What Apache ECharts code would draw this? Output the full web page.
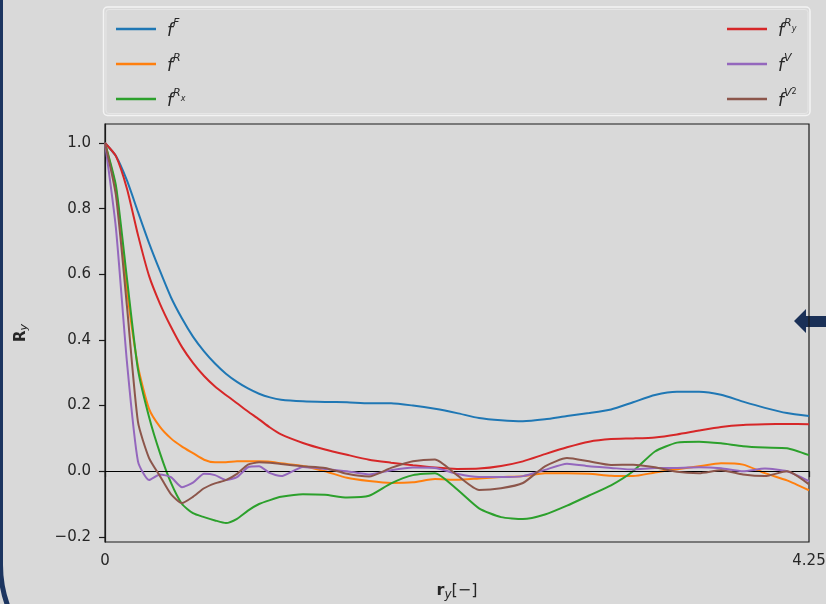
<!DOCTYPE html>
<html>
<head>
<meta charset="utf-8">
<script src="https://cdn.jsdelivr.net/npm/echarts@6/dist/echarts.min.js"></script>
<style>
  html, body { margin: 0; padding: 0; background: #d9d9d9; }
  #chart { width: 826px; height: 604px; }
</style>
</head>
<body>
<div id="chart"></div>
<script>
// Lag positions r_y (shared by all curves)
const rY = [0, 0.066, 0.133, 0.199, 0.266, 0.332, 0.398, 0.465, 0.531, 0.598,
  0.664, 0.730, 0.797, 0.863, 0.930, 0.996, 1.063, 1.195, 1.328, 1.461,
  1.594, 1.727, 1.859, 1.992, 2.125, 2.258, 2.391, 2.523, 2.656, 2.789,
  2.922, 3.055, 3.188, 3.320, 3.453, 3.586, 3.719, 3.852, 3.984, 4.117, 4.25];

// Correlation curves R_y for each field
const fF = [1.0, 0.96, 0.885, 0.79, 0.695, 0.61, 0.53, 0.465, 0.41, 0.365,
  0.328, 0.297, 0.272, 0.252, 0.236, 0.225, 0.218, 0.213, 0.211, 0.21,
  0.207, 0.207, 0.20, 0.19, 0.177, 0.162, 0.155, 0.152, 0.158, 0.168,
  0.177, 0.188, 0.21, 0.232, 0.242, 0.242, 0.233, 0.212, 0.193, 0.177, 0.168];
const fR = [1.0, 0.86, 0.55, 0.32, 0.19, 0.135, 0.10, 0.075, 0.055, 0.035,
  0.027, 0.027, 0.03, 0.03, 0.03, 0.029, 0.024, 0.016, 0.0, -0.02,
  -0.03, -0.036, -0.034, -0.024, -0.026, -0.022, -0.018, -0.015, -0.006, -0.006,
  -0.008, -0.014, -0.015, -0.004, 0.006, 0.015, 0.024, 0.02, -0.006, -0.028, -0.058];
const fRx = [1.0, 0.87, 0.585, 0.31, 0.165, 0.055, -0.035, -0.10, -0.128, -0.14,
  -0.15, -0.158, -0.145, -0.12, -0.10, -0.088, -0.078, -0.07, -0.072, -0.08,
  -0.075, -0.037, -0.012, -0.006, -0.055, -0.113, -0.14, -0.146, -0.132, -0.105,
  -0.074, -0.043, 0.0, 0.06, 0.087, 0.09, 0.085, 0.076, 0.072, 0.07, 0.049];
const fRy = [1.0, 0.96, 0.86, 0.72, 0.595, 0.51, 0.44, 0.378, 0.33, 0.29,
  0.258, 0.232, 0.207, 0.182, 0.158, 0.133, 0.112, 0.086, 0.066, 0.05,
  0.035, 0.026, 0.018, 0.011, 0.007, 0.008, 0.016, 0.03, 0.052, 0.073,
  0.09, 0.098, 0.10, 0.103, 0.112, 0.124, 0.135, 0.141, 0.143, 0.144, 0.143];
const fV = [1.0, 0.74, 0.33, 0.03, -0.027, -0.01, -0.018, -0.049, -0.035, -0.008,
  -0.012, -0.027, -0.018, 0.012, 0.015, -0.006, -0.015, 0.013, 0.007, 0.0,
  -0.01, 0.003, 0.011, 0.01, -0.008, -0.018, -0.018, -0.015, 0.004, 0.023,
  0.015, 0.01, 0.005, 0.01, 0.01, 0.012, 0.009, 0.0, 0.008, 0.0, -0.03];
const fV2 = [1.0, 0.84, 0.50, 0.15, 0.04, -0.015, -0.07, -0.097, -0.078, -0.052,
  -0.037, -0.027, -0.008, 0.02, 0.027, 0.026, 0.022, 0.015, 0.01, -0.008,
  -0.016, 0.01, 0.03, 0.036, -0.012, -0.057, -0.052, -0.036, 0.015, 0.04,
  0.03, 0.019, 0.02, 0.012, -0.002, -0.006, 0.003, -0.01, -0.015, 0.0, -0.04];

// Tick labels
const yTicks = [-0.2, 0.0, 0.2, 0.4, 0.6, 0.8, 1.0];
const xTicks = [0, 4.25];

const seriesDefs = [
  { name: 'fF', values: fF, color: '#1f77b4', label: '{f|f}{sup|F}' },
  { name: 'fR', values: fR, color: '#ff7f0e', label: '{f|f}{sup|R}' },
  { name: 'fRx', values: fRx, color: '#2ca02c', label: '{f|f}{sup|R}{ssub|x}' },
  { name: 'fRy', values: fRy, color: '#d62728', label: '{f|f}{sup|R}{ssub|y}' },
  { name: 'fV', values: fV, color: '#9467bd', label: '{f|f}{sup|V}' },
  { name: 'fV2', values: fV2, color: '#8c564b', label: '{f|f}{sup|V}{ssup|2}' }
];

const FONT = 'DejaVu Sans';
const INK = '#262626';

const legendRich = {
  f: { fontFamily: FONT, fontSize: 17, fontStyle: 'italic', color: INK, lineHeight: 22, verticalAlign: 'bottom' },
  sup: { fontFamily: FONT, fontSize: 11, fontStyle: 'italic', color: INK, lineHeight: 13, verticalAlign: 'top' },
  ssub: { fontFamily: FONT, fontSize: 8, fontStyle: 'italic', color: INK, lineHeight: 8, verticalAlign: 'top', padding: [7, 0, 0, 0] },
  ssup: { fontFamily: FONT, fontSize: 8, color: INK, lineHeight: 10, verticalAlign: 'top' }
};

// One legend block per entry: two columns of three rows
const legendPos = [
  { left: 111, top: 13 }, { left: 111, top: 48 }, { left: 111, top: 83 },
  { left: 722, top: 13 }, { left: 722, top: 48 }, { left: 722, top: 83 }
];
const legends = seriesDefs.map((s, i) => ({
  data: [s.name],
  left: legendPos[i].left,
  top: legendPos[i].top,
  icon: 'rect',
  itemWidth: 40,
  itemHeight: 2.5,
  selectedMode: false,
  formatter: () => s.label,
  textStyle: { padding: [0, 0, 0, 6], rich: legendRich }
}));

const chart = echarts.init(document.getElementById('chart'), null, { renderer: 'canvas' });

chart.setOption({
  animation: false,
  backgroundColor: '#d9d9d9',
  graphic: [
    // panel outline
    {
      type: 'rect', z: -10, silent: true,
      shape: { x: 0.5, y: -200, width: 1000, height: 885, r: 120 },
      style: { fill: null, stroke: '#1c3560', lineWidth: 5 }
    },
    // pointer arrow on the right edge
    {
      type: 'polygon', z: -10, silent: true,
      shape: { points: [[794, 321], [806, 309], [806, 316], [826, 316], [826, 327], [806, 327], [806, 333]] },
      style: { fill: '#1a3057' }
    },
    // legend frame
    {
      type: 'rect', z: -5, silent: true,
      shape: { x: 103.5, y: 7, width: 706.5, height: 108.5, r: 4 },
      style: { fill: null, stroke: '#f3f3f3', lineWidth: 1.5 }
    },
    {
      type: 'rect', z: -5, silent: true,
      shape: { x: 106, y: 9.5, width: 702, height: 104, r: 3 },
      style: { fill: null, stroke: '#e6e6e6', lineWidth: 1 }
    }
  ],
  legend: legends,
  grid: {
    left: 105, right: 17, top: 124, bottom: 62,
    containLabel: false,
    outerBoundsMode: 'none',
    show: true,
    backgroundColor: 'transparent',
    borderColor: '#1a1a1a',
    borderWidth: 1.2
  },
  xAxis: {
    type: 'value',
    min: 0,
    max: 4.25,
    name: '{b|r}{s|y}{n|[−]}',
    nameLocation: 'middle',
    nameGap: 39,
    nameTextStyle: {
      rich: {
        b: { fontFamily: FONT, fontSize: 16, fontWeight: 'bold', color: INK },
        s: { fontFamily: FONT, fontSize: 12, fontStyle: 'italic', color: INK, padding: [8, 0, 0, 0] },
        n: { fontFamily: FONT, fontSize: 16, color: INK }
      }
    },
    axisLine: { show: true, lineStyle: { color: '#1a1a1a', width: 1.2 } },
    axisTick: { show: true, length: 6, customValues: xTicks, lineStyle: { color: '#1a1a1a', width: 1.2 } },
    axisLabel: {
      customValues: xTicks,
      margin: 12,
      fontFamily: FONT, fontSize: 15, color: INK,
      formatter: v => (v === 0 ? '0' : String(v))
    },
    splitLine: { show: false }
  },
  yAxis: {
    type: 'value',
    min: -0.2157,
    max: 1.0578,
    name: '{b|R}{s|y}',
    nameLocation: 'middle',
    nameGap: 75,
    nameTextStyle: {
      rich: {
        b: { fontFamily: FONT, fontSize: 15, fontWeight: 'bold', color: INK },
        s: { fontFamily: FONT, fontSize: 11, fontStyle: 'italic', color: INK, padding: [7, 0, 0, 0] }
      }
    },
    axisLine: { show: true, lineStyle: { color: '#1a1a1a', width: 1.2 } },
    axisTick: { show: true, length: 6, customValues: yTicks, lineStyle: { color: '#1a1a1a', width: 1.2 } },
    axisLabel: {
      customValues: yTicks,
      margin: 14,
      fontFamily: FONT, fontSize: 15, color: INK,
      formatter: v => (v < 0 ? '\u2212' + Math.abs(v).toFixed(1) : v.toFixed(1))
    },
    splitLine: { show: false }
  },
  series: seriesDefs.map((s, i) => {
    const ser = {
      name: s.name,
      type: 'line',
      data: rY.map((x, k) => [x, s.values[k]]),
      showSymbol: false,
      symbol: 'none',
      smooth: 0.2,
      clip: true,
      z: 2 + i,
      color: s.color,
      lineStyle: { color: s.color, width: 2 },
      itemStyle: { color: s.color }
    };
    if (i === 0) {
      // horizontal reference line at zero
      ser.markLine = {
        silent: true,
        symbol: ['none', 'none'],
        label: { show: false },
        lineStyle: { color: '#000', width: 1.2, type: 'solid' },
        data: [{ yAxis: 0 }]
      };
    }
    return ser;
  })
});
</script>
</body>
</html>
